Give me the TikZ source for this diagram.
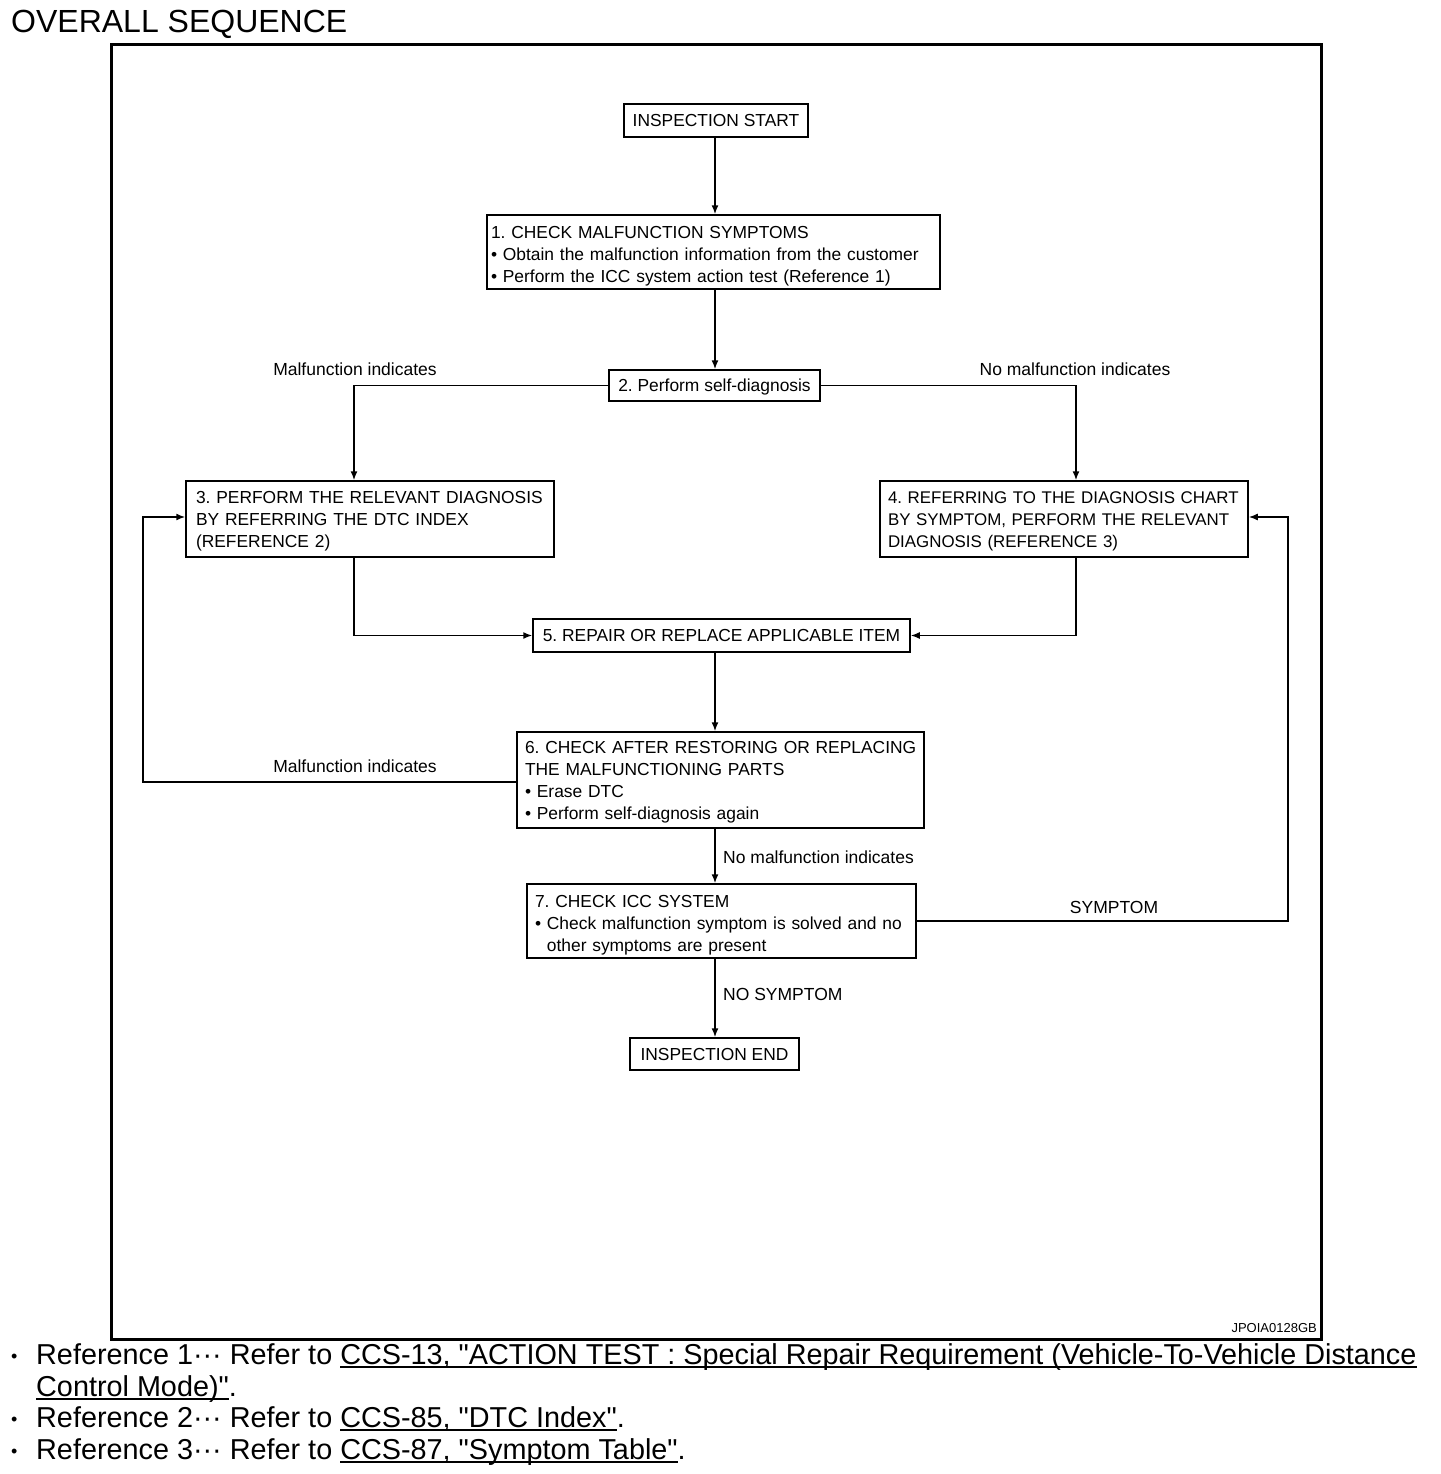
\documentclass[tikz,border=0pt]{standalone}
\usepackage{fontspec}
\newfontfamily\lsans{Liberation Sans}
\usetikzlibrary{arrows.meta}
\newcommand\topstrut[1][17pt]{\rule{0pt}{#1}}
\newcommand\ulx[1]{\setbox0\hbox{#1}\rlap{\rule[-4pt]{\wd0}{2pt}}\box0}
\begin{document}
\lsans\frenchspacing
\begin{tikzpicture}[x=1pt,y=-1pt,
  flow/.style={draw, line width=1.5pt, font=\lsans\fontsize{17.4}{22}\selectfont, inner xsep=8pt, inner ysep=0pt},
  oneline/.style={flow, align=center, text height=12.5pt, text depth=0pt},
  conn/.style={line width=1.5pt, -{Latex[length=9pt,width=7pt]}},
  lbl/.style={font=\lsans\fontsize{17.5}{20}\selectfont, inner sep=0pt},
  refline/.style={font=\lsans\fontsize{28.8}{32}\selectfont, inner sep=0pt, anchor=base west},
  refbullet/.style={font=\lsans\fontsize{18}{20}\selectfont, inner sep=0pt, anchor=base west}]
\useasboundingbox (0,0) rectangle (1440,1474);
\fill[white] (0,0) rectangle (1440,1474);
% title and frame
\node[font=\lsans\fontsize{32}{36}\selectfont, inner sep=0pt, anchor=base west] (title) at (11,33) {OVERALL SEQUENCE};
\draw[line width=3pt] (111,45) rectangle (1321,1339);
\node[font=\lsans\fontsize{13}{14}\selectfont, inner sep=0pt, anchor=east] (code) at (1317,1328) {JPOIA0128GB};
% boxes
\node[oneline, minimum width=184pt, minimum height=33pt] (start) at (716,120.5) {INSPECTION START};
\node[flow, minimum width=453pt, minimum height=74pt, inner xsep=4pt, text width=445pt, align=left] (b1) at (713.5,252)
 {\topstrut[21pt]\mbox{1. CHECK MALFUNCTION SYMPTOMS}\\ \mbox{• Obtain the malfunction information from the customer}\\ \mbox{• Perform the ICC system action test (Reference 1)}};
\node[oneline, minimum width=211pt, minimum height=31pt] (b2) at (714.5,385.5) {2. Perform self-diagnosis};
\node[flow, minimum width=368pt, minimum height=76pt, inner xsep=10pt, text width=348pt, align=left] (b3) at (370,519)
 {\topstrut\mbox{3. PERFORM THE RELEVANT DIAGNOSIS}\\ \mbox{BY REFERRING THE DTC INDEX}\\ \mbox{(REFERENCE 2)}};
\node[flow, font=\lsans\fontsize{16.9}{22}\selectfont, minimum width=368pt, minimum height=76pt, inner xsep=8pt, text width=352pt, align=left] (b4) at (1064,519)
 {\topstrut\mbox{4. REFERRING TO THE DIAGNOSIS CHART}\\ \mbox{BY SYMPTOM, PERFORM THE RELEVANT}\\ \mbox{DIAGNOSIS (REFERENCE 3)}};
\node[oneline, minimum width=377pt, minimum height=33pt] (b5) at (721.5,635.5) {5. REPAIR OR REPLACE APPLICABLE ITEM};
\node[flow, minimum width=407pt, minimum height=96pt, inner xsep=8pt, text width=391pt, align=left] (b6) at (720.5,780)
 {\topstrut\mbox{6. CHECK AFTER RESTORING OR REPLACING}\\ \mbox{THE MALFUNCTIONING PARTS}\\ \mbox{• Erase DTC}\\ \mbox{• Perform self-diagnosis again}};
\node[flow, minimum width=389pt, minimum height=74pt, inner xsep=8pt, text width=373pt, align=left] (b7) at (721.5,921)
 {\topstrut[21pt]\mbox{7. CHECK ICC SYSTEM}\\ \mbox{• Check malfunction symptom is solved and no}\\ \mbox{\phantom{• }other symptoms are present}};
\node[oneline, minimum width=169pt, minimum height=32pt] (end) at (714.5,1054) {INSPECTION END};
% helper coordinates
\coordinate (cx) at (715,0);
\coordinate (lx) at (354,0);
\coordinate (rx) at (1076,0);
\coordinate (l6) at (143,782);
\coordinate (l3) at (143,517);
\coordinate (r7) at (1288,921);
\coordinate (r4) at (1288,517);
% connectors
\draw[conn] (start.south -| cx) -- (b1.north -| cx);
\draw[conn] (b1.south -| cx) -- (b2.north -| cx);
\draw[conn] (b2.west) -| (b3.north -| lx);
\draw[conn] (b2.east) -| (b4.north -| rx);
\draw[conn] (b3.south -| lx) |- (b5.west);
\draw[conn] (b4.south -| rx) |- (b5.east);
\draw[conn] (b5.south -| cx) -- (b6.north -| cx);
\draw[conn] (b6.west |- l6) -- (l6) -- (l3) -- (b3.west |- l3);
\draw[conn] (b6.south -| cx) -- (b7.north -| cx);
\draw[conn] (b7.east |- r7) -- (r7) -- (r4) -- (b4.east |- r4);
\draw[conn] (b7.south -| cx) -- (end.north -| cx);
% labels
\node[lbl] (m1) at (355,369) {Malfunction indicates};
\node[lbl] (n1) at (1075,369) {No malfunction indicates};
\node[lbl] (m2) at (355,766) {Malfunction indicates};
\node[lbl, anchor=west] (n2) at (723,857) {No malfunction indicates};
\node[lbl] (sy) at (1114,907) {SYMPTOM};
\node[lbl, anchor=west] (ns) at (723,994) {NO SYMPTOM};
% references
\node[refbullet] (bu1) at (11,1362) {•};
\node[refline] (r1a) at (36,1364) {Reference 1··· Refer to \ulx{CCS-13, "ACTION TEST : Special Repair Requirement (Vehicle-To-Vehicle Distance}};
\node[refline] (r1b) at (36,1396) {\ulx{Control Mode)"}.};
\node[refbullet] (bu2) at (11,1425) {•};
\node[refline] (r2) at (36,1427) {Reference 2··· Refer to \ulx{CCS-85, "DTC Index"}.};
\node[refbullet] (bu3) at (11,1457) {•};
\node[refline] (r3) at (36,1459) {Reference 3··· Refer to \ulx{CCS-87, "Symptom Table"}.};
\end{tikzpicture}
\end{document}
